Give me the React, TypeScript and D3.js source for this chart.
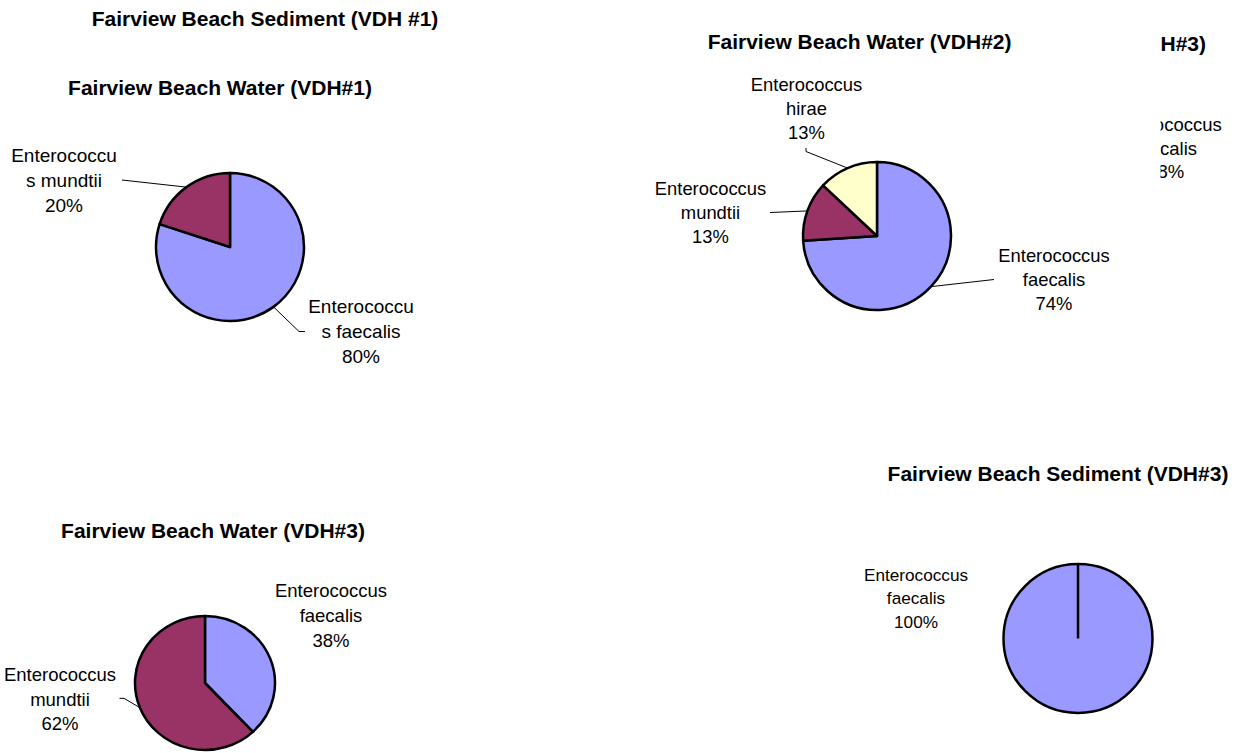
import React from 'react';
import * as d3 from 'd3';

// ---------- data ----------
const speciesWater1 = ['Enterococcus faecalis', 'Enterococcus mundtii'];
const valuesWater1 = [80, 20];

const speciesWater2 = ['Enterococcus faecalis', 'Enterococcus mundtii', 'Enterococcus hirae'];
const valuesWater2 = [74, 13, 13];

const speciesWater3 = ['Enterococcus faecalis', 'Enterococcus mundtii'];
const valuesWater3 = [38, 62];

const speciesSediment3 = ['Enterococcus faecalis'];
const valuesSediment3 = [100];

// partly hidden chart (only its right edge shows)
const speciesHidden = ['Enterococcus faecalis'];
const valuesHidden = [38];

const titleSediment1 = 'Fairview Beach Sediment (VDH #1)';
const titleWater1 = 'Fairview Beach Water (VDH#1)';
const titleWater2 = 'Fairview Beach Water (VDH#2)';
const titleWater3 = 'Fairview Beach Water (VDH#3)';
const titleSediment3 = 'Fairview Beach Sediment (VDH#3)';
const titleHiddenVisible = 'H#3)';

const speciesColors: Record<string, string> = {
  'Enterococcus faecalis': '#9999FF',
  'Enterococcus mundtii': '#993366',
  'Enterococcus hirae': '#FFFFCC',
};

// ---------- layout ----------
const FONT = '"Liberation Sans", Arial, Helvetica, sans-serif';
const TITLE_SIZE = 21;
const PIE_STROKE = 2.5;

type LabelLayout = { x: number; y: number; leader?: [number, number][] };
type ChartLayout = {
  species: string[];
  values: number[];
  cx: number; cy: number; rx: number; ry: number;
  labelSize: number; lineH: number;
  wrap: 'char' | 'word';
  labels: LabelLayout[];
};

const charts: ChartLayout[] = [
  {
    species: speciesWater1, values: valuesWater1,
    cx: 230, cy: 247, rx: 74, ry: 74,
    labelSize: 19, lineH: 25, wrap: 'char',
    labels: [
      { x: 361, y: 306, leader: [[305, 331.5], [299, 331.5]] },
      { x: 64, y: 155, leader: [[122, 180]] },
    ],
  },
  {
    species: speciesWater2, values: valuesWater2,
    cx: 877, cy: 236, rx: 74, ry: 74,
    labelSize: 18.4, lineH: 24, wrap: 'word',
    labels: [
      { x: 1054, y: 255.5, leader: [[994, 279.5]] },
      { x: 710.5, y: 188, leader: [[770, 212.5]] },
      { x: 806.5, y: 84, leader: [[806, 148], [806, 151.5]] },
    ],
  },
  {
    species: speciesWater3, values: valuesWater3,
    cx: 205, cy: 683, rx: 70, ry: 67,
    labelSize: 18.5, lineH: 24.6, wrap: 'word',
    labels: [
      { x: 331, y: 590.7 },
      { x: 60, y: 674.5, leader: [[119.5, 698.3], [124, 698.3]] },
    ],
  },
  {
    species: speciesSediment3, values: valuesSediment3,
    cx: 1078, cy: 638.5, rx: 74.5, ry: 74.5,
    labelSize: 17.2, lineH: 23.3, wrap: 'word',
    labels: [{ x: 916, y: 575 }],
  },
];

function labelLines(name: string, value: number, wrap: 'char' | 'word'): string[] {
  const parts = wrap === 'char' ? [name.slice(0, 11), name.slice(11)] : name.split(' ');
  return [...parts, `${value}%`];
}

function Title({ text, x, y, anchor = 'middle' }: { text: string; x: number; y: number; anchor?: string }) {
  return (
    <text x={x} y={y + 7.5} textAnchor={anchor} fontFamily={FONT} fontSize={TITLE_SIZE} fontWeight="bold" fill="#000">
      {text}
    </text>
  );
}

function MultiLine({ lines, x, y, size, lineH }: { lines: string[]; x: number; y: number; size: number; lineH: number }) {
  return (
    <text textAnchor="middle" fontFamily={FONT} fontSize={size} fill="#000">
      {lines.map((l, i) => (
        <tspan key={i} x={x} y={y + 0.358 * size + i * lineH}>{l}</tspan>
      ))}
    </text>
  );
}

function Pie({ c }: { c: ChartLayout }) {
  const data = c.species.map((s, i) => ({ species: s, value: c.values[i] }));
  const arcs = d3.pie<{ species: string; value: number }>().sort(null).value((d) => d.value)(data);
  const arcGen = d3.arc<d3.PieArcDatum<{ species: string; value: number }>>().innerRadius(0).outerRadius(c.rx);
  const sy = c.ry / c.rx;
  const onArc = (a: number): [number, number] => [c.cx + c.rx * Math.sin(a), c.cy - c.ry * Math.cos(a)];
  const line = d3.line();
  return (
    <g>
      <g transform={`translate(${c.cx},${c.cy}) scale(1,${sy})`}>
        {arcs.map((a, i) => (
          <path key={i} d={arcGen(a) || ''} fill={speciesColors[a.data.species]} stroke="#000" strokeWidth={PIE_STROKE}
            vectorEffect="non-scaling-stroke" strokeLinejoin="round" />
        ))}
        {arcs.length === 1 && (
          <line x1={0} y1={0} x2={c.rx * Math.sin(arcs[0].startAngle)} y2={-c.rx * Math.cos(arcs[0].startAngle)}
            stroke="#000" strokeWidth={PIE_STROKE} vectorEffect="non-scaling-stroke" />
        )}
      </g>
      {arcs.map((a, i) => {
        const L = c.labels[i];
        if (!L) return null;
        const mid = (a.startAngle + a.endAngle) / 2;
        const pts: [number, number][] = L.leader ? [...L.leader, onArc(mid)] : [];
        return (
          <g key={i}>
            {L.leader && <path d={line(pts) || ''} fill="none" stroke="#000" strokeWidth={1} />}
            <MultiLine lines={labelLines(a.data.species, a.data.value, c.wrap)} x={L.x} y={L.y} size={c.labelSize} lineH={c.lineH} />
          </g>
        );
      })}
    </g>
  );
}

export default function App() {
  const W = 1243, H = 753;
  return (
    <svg width={W} height={H} viewBox={`0 0 ${W} ${H}`} style={{ position: 'absolute', left: 0, top: 0, background: '#fff' }}>
      <rect x={0} y={0} width={W} height={H} fill="#fff" />
      <defs>
        <clipPath id="hiddenClip">
          <rect x={1160.5} y={0} width={W - 1160.5} height={400} />
        </clipPath>
      </defs>
      {/* right edge of a chart that lies behind the VDH#2 chart */}
      <g clipPath="url(#hiddenClip)">
        <Title text={titleHiddenVisible} x={1206} y={43.3} anchor="end" />
        <MultiLine lines={labelLines(speciesHidden[0], valuesHidden[0], 'word')} x={1165.7} y={124.3} size={18.5} lineH={23.7} />
      </g>
      <Title text={titleSediment1} x={265} y={18} />
      <Title text={titleWater1} x={220} y={87} />
      <Title text={titleWater2} x={859.6} y={41.7} />
      <Title text={titleWater3} x={213} y={530} />
      <Title text={titleSediment3} x={1058} y={473.3} />
      {charts.map((c, i) => <Pie key={i} c={c} />)}
    </svg>
  );
}
